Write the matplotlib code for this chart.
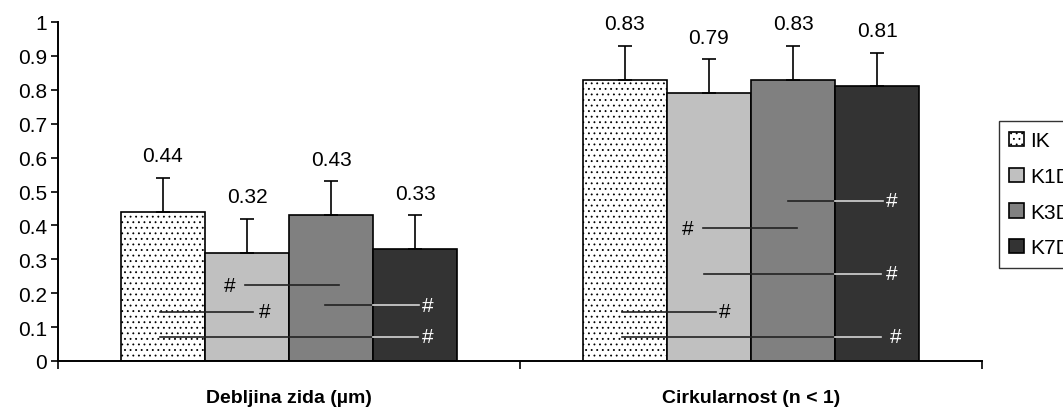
import numpy as np
import matplotlib
matplotlib.use("Agg")
import matplotlib.pyplot as plt

plt.rcParams['font.family'] = ['Liberation Sans', 'DejaVu Sans']
plt.rcParams['hatch.color'] = '#8c8c8c'
plt.rcParams['hatch.linewidth'] = 0.6

# data
categories = ["Debljina zida (\u00b5m)", "Cirkularnost (n < 1)"]
groups = ["IK", "K1D", "K3D", "K7D"]
values = {
    "IK":  [0.44, 0.83],
    "K1D": [0.32, 0.79],
    "K3D": [0.43, 0.83],
    "K7D": [0.33, 0.81],
}
errors = {
    "IK":  [0.10, 0.10],
    "K1D": [0.10, 0.10],
    "K3D": [0.10, 0.10],
    "K7D": [0.10, 0.10],
}
# significance marks: (category, x start, x end, y, x of '#') in data units relative to category
sig_cat = [0, 0, 0, 0, 1, 1, 1, 1, 1]
sig_x0 = [-0.279, -0.279, -0.095, 0.078, 0.080, -0.104, -0.102, -0.279, -0.279]
sig_x1 = [-0.078, 0.279, 0.108, 0.281, 0.286, 0.100, 0.281, -0.076, 0.281]
sig_y = [0.145, 0.071, 0.224, 0.165, 0.472, 0.392, 0.257, 0.145, 0.071]
sig_hx = [-0.052, 0.300, -0.128, 0.300, 0.305, -0.136, 0.305, -0.056, 0.314]

colors = {"IK": "white", "K1D": "#c0c0c0", "K3D": "#808080", "K7D": "#333333"}
hatches = {"IK": "...", "K1D": None, "K3D": None, "K7D": None}

fig = plt.figure(figsize=(10.63, 4.10), dpi=100)
ax = fig.add_axes([58 / 1063, 48 / 410, 924 / 1063, 339 / 410])

x = np.arange(len(categories))
w = 0.182
offsets = [-1.5 * w, -0.5 * w, 0.5 * w, 1.5 * w]

for g, off in zip(groups, offsets):
    v = values[g]
    e = errors[g]
    ax.bar(x + off, v, w, color=colors[g], edgecolor='black', linewidth=1.2,
           hatch=hatches[g], label=g, zorder=2)
    ax.errorbar(x + off, v, yerr=[np.zeros(len(v)), e], fmt='none', ecolor='black',
                elinewidth=1.2, capsize=5, capthick=1.2, zorder=3)
    for xi, vi, ei in zip(x + off, v, e):
        ax.annotate(f"{vi:.2f}", (xi, vi + ei), xytext=(0, 16), textcoords='offset points',
                    ha='center', va='center', fontsize=15)

# significance lines
k7_left = 1.0 * w
for c, a, b, yy, hx in zip(sig_cat, sig_x0, sig_x1, sig_y, sig_hx):
    ax.plot([c + a, c + b], [yy, yy], color='#222222', lw=1.2, zorder=4)
    if b > k7_left:
        ax.plot([c + max(a, k7_left), c + b], [yy, yy], color='#d8d8d8', lw=1.2, zorder=5)
    hc = 'white' if hx > k7_left else 'black'
    ax.text(c + hx, yy, "#", ha='center', va='center', fontsize=15, color=hc, zorder=6)

ax.set_xlim(-0.5, 1.5)
ax.set_ylim(0, 1)
ax.set_yticks(np.arange(0, 1.01, 0.1))
ax.set_yticklabels([f"{t:g}" for t in np.round(np.arange(0, 1.01, 0.1), 1)], fontsize=15)
ax.set_xticks([-0.5, 0.5, 1.5])
ax.set_xticklabels([])
ax.set_xticks(x, minor=True)
ax.set_xticklabels(categories, minor=True, fontsize=14, fontweight='bold')
ax.tick_params(axis='x', which='minor', length=0, pad=20)
ax.tick_params(axis='x', which='major', length=6, width=1.2, direction='out')
ax.tick_params(axis='y', length=5, width=1.2, direction='out', pad=3)
for s in ['top', 'right']:
    ax.spines[s].set_visible(False)
for s in ['left', 'bottom']:
    ax.spines[s].set_linewidth(1.4)

# legend sits at the right edge and is partly cut off, as in the original
leg = fig.legend(loc='upper left', bbox_to_anchor=(999 / 1063, 1 - 122 / 410),
                 fontsize=15, frameon=True, fancybox=False, handlelength=0.7,
                 handleheight=0.7, handletextpad=0.3, labelspacing=0.8,
                 borderpad=0.5, borderaxespad=0)
leg.get_frame().set_edgecolor('black')
leg.get_frame().set_linewidth(1.0)

fig.savefig("out.png", dpi=100)
